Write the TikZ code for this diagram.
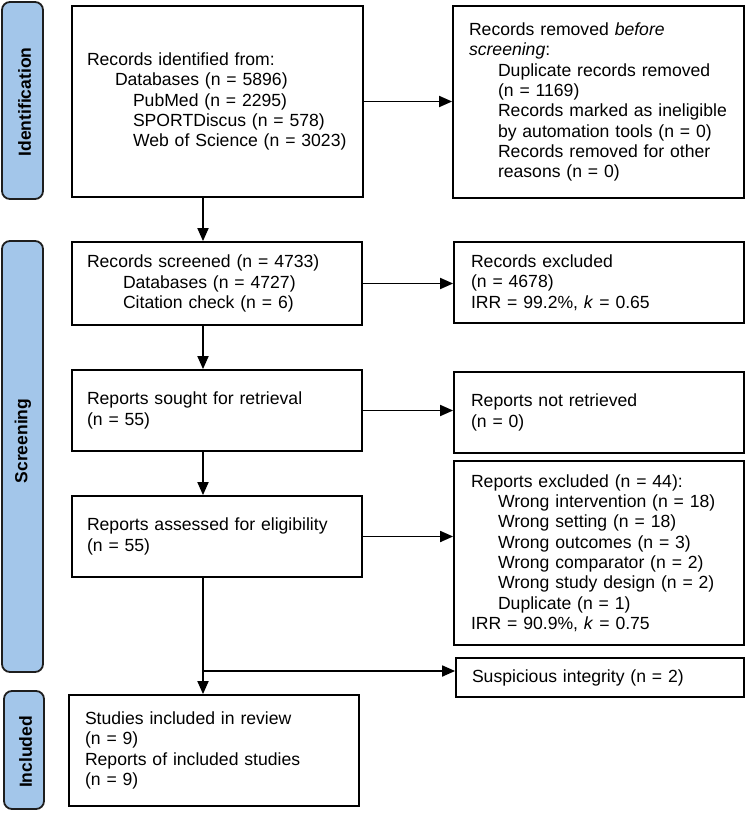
\documentclass[tikz,border=0pt]{standalone}
\usepackage{fontspec}
\setmainfont{Liberation Sans}
\usetikzlibrary{arrows.meta}
\definecolor{barblue}{RGB}{163,198,234}
\definecolor{bardark}{RGB}{30,30,30}
\tikzset{
  box/.style={draw=black, line width=1.8pt, align=left, inner ysep=0pt,
    font=\fontsize{17.6}{20.3}\selectfont},
  lbox/.style={box, inner xsep=15pt},
  rbox/.style={box, inner xsep=17pt},
  sidebar/.style={draw=bardark, fill=barblue, line width=1.8pt, rounded corners=8pt, inner sep=0pt},
  barlabel/.style={rotate=90, font=\fontsize{17.5}{20}\selectfont\bfseries, inner sep=0pt},
  arr/.style={line width=1.8pt, -{Triangle[length=13pt,width=11pt]}}
}
\newcommand{\ind}[1]{\hspace*{#1pt}}
\begin{document}
\begin{tikzpicture}[x=1pt,y=-1pt]
\useasboundingbox (0,0) rectangle (749,813);
% side bars
\node[sidebar, minimum width=41pt, minimum height=197pt] (s1) at (22.5,100.5) {};
\node[barlabel] (l1) at (24.5,102) {Identification};
\node[sidebar, minimum width=41pt, minimum height=431pt] (s2) at (22.5,456.5) {};
\node[barlabel] (l2) at (23,441) {Screening};
\node[sidebar, minimum width=40pt, minimum height=118pt] (s3) at (24,750) {};
\node[barlabel] (l3) at (25.5,752) {Included};
% boxes
\node[lbox, text width=261pt, minimum height=191pt] (A) at (217.5,101.5) {Records identified from:\\\ind{28}Databases (n = 5896)\\\ind{46}PubMed (n = 2295)\\\ind{46}SPORTDiscus (n = 578)\\\ind{46}Web of Science (n = 3023)};
\node[rbox, inner xsep=16pt, text width=259pt, minimum height=192pt] (B) at (598.5,102) {Records removed \textit{before}\\\textit{screening}:\\\ind{29}Duplicate records removed\\\ind{29}(n = 1169)\\\ind{29}Records marked as ineligible\\\ind{29}by automation tools (n = 0)\\\ind{29}Records removed for other\\\ind{29}reasons (n = 0)};
\node[lbox, text width=260pt, minimum height=83pt] (C) at (217,283.5) {Records screened (n = 4733)\\\ind{36}Databases (n = 4727)\\\ind{36}Citation check (n = 6)};
\node[rbox, text width=256pt, minimum height=81pt] (D) at (599,282.5) {Records excluded\\(n = 4678)\\IRR = 99.2\%, \textit{k} = 0.65};
\node[lbox, text width=260pt, minimum height=81pt] (E) at (217,410.5) {Reports sought for retrieval\\(n = 55)};
\node[rbox, text width=256pt, minimum height=81pt] (F) at (599,412.5) {Reports not retrieved\\(n = 0)};
\node[lbox, text width=260pt, minimum height=81pt] (G) at (217,536.5) {Reports assessed for eligibility\\(n = 55)};
\node[rbox, text width=256pt, minimum height=184pt] (H) at (599,553) {Reports excluded (n = 44):\\\ind{27}Wrong intervention (n = 18)\\\ind{27}Wrong setting (n = 18)\\\ind{27}Wrong outcomes (n = 3)\\\ind{27}Wrong comparator (n = 2)\\\ind{27}Wrong study design (n = 2)\\\ind{27}Duplicate (n = 1)\\IRR = 90.9\%, \textit{k} = 0.75};
\node[rbox, inner xsep=16pt, text width=256pt, minimum height=39pt] (I) at (600,677.5) {Suspicious integrity (n = 2)};
\node[lbox, inner xsep=16pt, text width=258pt, minimum height=111pt] (J) at (214,750.5) {Studies included in review\\(n = 9)\\Reports of included studies\\(n = 9)};
% connectors
\coordinate (sp) at (203,0);
\coordinate (br) at (203,671);
\draw[arr] (A.south -| sp) -- (C.north -| sp);
\draw[arr] (A.east) -- (A.east -| B.west);
\draw[arr] (C.east) -- (C.east -| D.west);
\draw[arr] (C.south -| sp) -- (E.north -| sp);
\draw[arr] (E.east) -- (E.east -| F.west);
\draw[arr] (E.south -| sp) -- (G.north -| sp);
\draw[arr] (G.east) -- (G.east -| H.west);
\draw[arr] (G.south -| sp) -- (J.north -| sp);
\draw[arr] (br) -- (br -| I.west);
\end{tikzpicture}
\end{document}
